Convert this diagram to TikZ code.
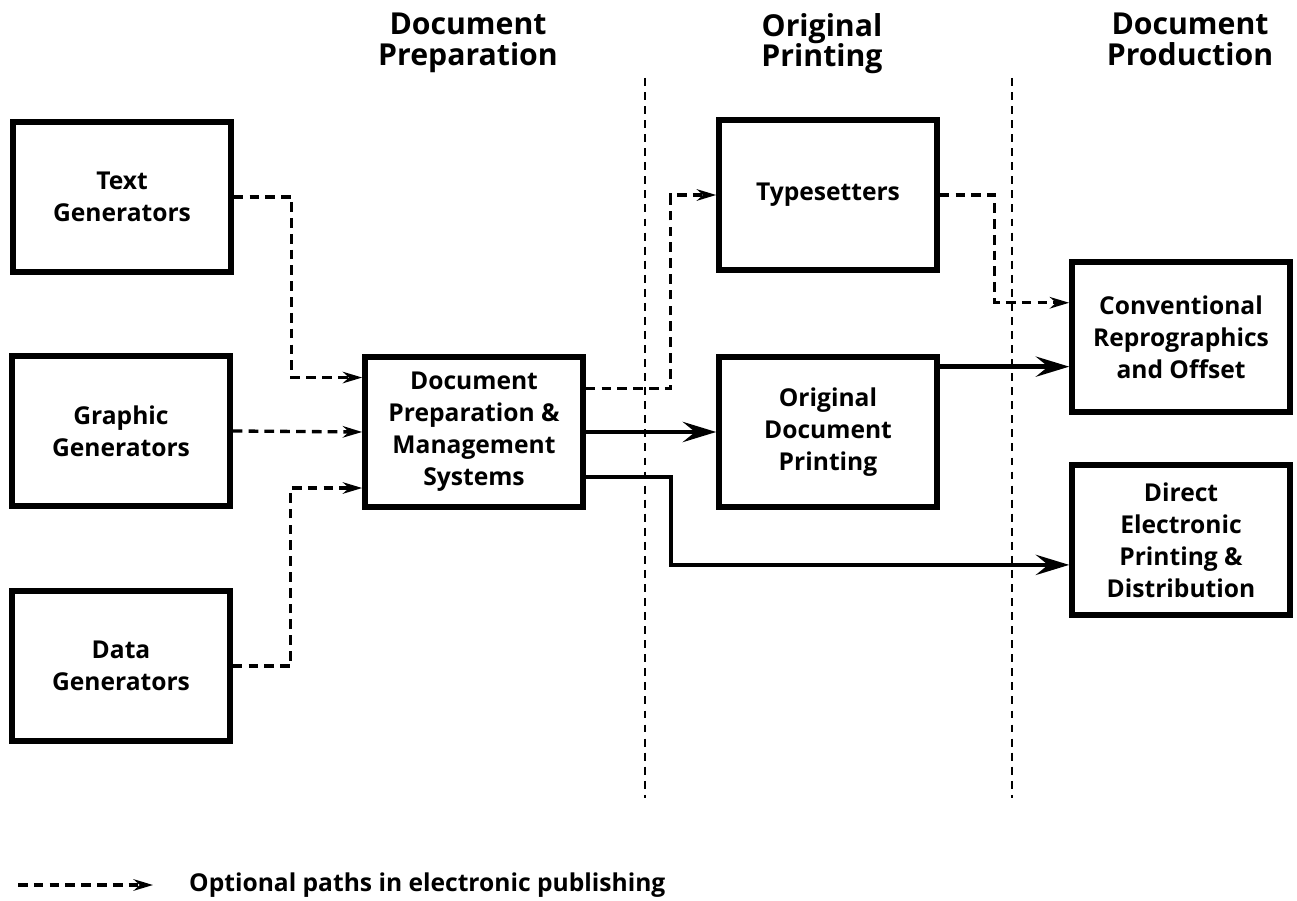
\documentclass[tikz,border=0pt]{standalone}
\usepackage{fontspec}
\setmainfont{Open Sans}
\usetikzlibrary{arrows.meta, calc, positioning}
\definecolor{dpink}{HTML}{000000}
\tikzset{
  every picture/.style={line join=miter},
  stage/.style={rectangle, draw=dpink, line width=3.2pt, minimum width=4.36cm,
    minimum height=3cm, align=center, inner sep=2pt,
    font=\bfseries\fontsize{14}{18.2}\selectfont},
  heading/.style={align=center, anchor=north, inner sep=0pt,
    font=\bfseries\fontsize{17.2}{17.2}\selectfont},
  opt/.style={-{Stealth[length=11pt, width=6.5pt, inset=3.5pt]}, draw=dpink,
    line width=1.9pt, dash pattern=on 5.5pt off 3.5pt},
  main/.style={-{Stealth[length=19pt, width=11.5pt, inset=7pt]}, draw=dpink,
    line width=2.6pt},
  divider/.style={draw=dpink, line width=1.5pt, dash pattern=on 4.5pt off 3.5pt},
  legend/.style={anchor=west, font=\bfseries\fontsize{14}{18.2}\selectfont},
}

\begin{document}
\begin{tikzpicture}[x=0.02cm, y=-0.02cm]
\useasboundingbox (0,0) rectangle (1297,901);

% ---- stage headings and dividers
\node[heading] (hprep) at (468, 13) {Document\\Preparation};
\node[heading] (hprint) at (822, 13) {Original\\Printing};
\node[heading] (hprod) at (1190, 13) {Document\\Production};
\foreach \name/\x in {div1/645, div2/1012} {
  \coordinate (\name) at (\x, 78);
  \draw[divider] (\name) -- ++(0, 720);
}

% ---- boxes
\foreach \name/\x/\y/\text in {
  textgen/122/197/{Text\\Generators},
  graphgen/121/431/{Graphic\\Generators},
  datagen/121/666/{Data\\Generators},
  docprep/474/432/{Document\\Preparation \&\\Management\\Systems},
  typeset/828/195/{Typesetters},
  odp/828/432/{Original\\Document\\Printing},
  conv/1181/337/{Conventional\\Reprographics\\and Offset},
  direct/1181/540/{Direct\\Electronic\\Printing \&\\Distribution}} {
  \node[stage] (\name) at (\x, \y) {\text};
}

% ---- optional (dashed) paths
\draw[opt] (textgen.east) -- ++(58, 0) |- ($(docprep.north west)!0.15!(docprep.south west)$);
\draw[opt] (graphgen.east) -- (docprep.west);
\draw[opt] (datagen.east) -- ++(58, 0) |- ($(docprep.north west)!0.86!(docprep.south west)$);
\draw[opt] ($(docprep.north east)!0.22!(docprep.south east)$) -- ++(85, 0) |- (typeset.west);
\draw[opt] (typeset.east) -- ++(55, 0) |- ($(conv.north west)!0.28!(conv.south west)$);

% ---- main (solid) paths
\draw[main] (docprep.east) -- (odp.west);
\draw[main] ($(docprep.north east)!0.79!(docprep.south east)$) -- ++(85, 0)
  |- ($(direct.north west)!0.66!(direct.south west)$);
\coordinate (odpout) at ($(odp.north east)!0.08!(odp.south east)$);
\draw[main] (odpout) -- (odpout -| conv.west);

% ---- legend
\coordinate (legstart) at (18, 885);
\draw[opt] (legstart) -- ++(135, 0);
\node[legend] (legtext) at (183, 885) {Optional paths in electronic publishing};

\end{tikzpicture}
\end{document}
